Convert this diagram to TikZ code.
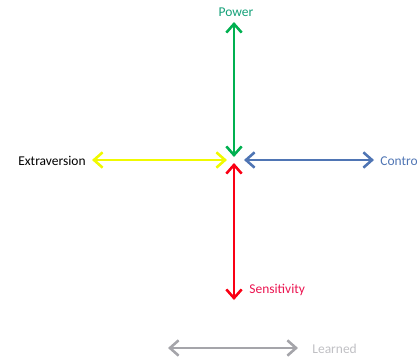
\documentclass[tikz,border=0pt]{standalone}
\usepackage{fontspec}
\setmainfont{Carlito}
\usepackage{tikz}
\usetikzlibrary{arrows.meta, positioning}

\definecolor{powgreen}{RGB}{0,176,80}
\definecolor{powtext}{RGB}{20,160,120}
\definecolor{extyellow}{RGB}{240,250,0}
\definecolor{ctlblue}{RGB}{79,117,180}
\definecolor{senred}{RGB}{250,0,20}
\definecolor{sentext}{RGB}{235,20,80}
\definecolor{lgray}{RGB}{165,165,170}

\begin{document}
\begin{tikzpicture}[
    x=0.03cm, y=-0.03cm,
    lbl/.style={font=\fontsize{11.5}{13}\selectfont, inner sep=1pt},
    axis/.style={<->, >={Straight Barb[length=2.6mm, width=4.6mm, line width=2.2pt]}, line width=2.5pt}
  ]
  \useasboundingbox (0,0) rectangle (417,359);

  % labels
  \node[lbl, text=powtext] (pow) at (236,12) {Power};
  \node[lbl, anchor=east] (ext) at (87,161) {Extraversion};
  \node[lbl, anchor=west, text=ctlblue] (ctl) at (379,161) {Control};
  \node[lbl, anchor=west, text=sentext] (sen) at (248,290) {Sensitivity};
  \node[lbl, anchor=west, text=lgray!70] (lrn) at (311,349) {Learned};

  % arrow ends
  \coordinate (powtop) at (234,22);
  \coordinate (powbot) at (234,157);
  \coordinate (sentop) at (234,163);
  \coordinate (senbot) at (234,300);
  \coordinate (extl) at (92,160);
  \coordinate (extr) at (227,160);
  \coordinate (ctll) at (244,160);
  \coordinate (ctlr) at (374,160);
  \coordinate (lrnl) at (168,348);
  \coordinate (lrnr) at (298,348);

  % axes
  \draw[axis, powgreen] (powtop) -- (powbot);
  \draw[axis, senred] (sentop) -- (senbot);
  \draw[axis, extyellow] (extl) -- (extr);
  \draw[axis, ctlblue] (ctll) -- (ctlr);
  \draw[axis, lgray] (lrnl) -- (lrnr);
\end{tikzpicture}
\end{document}
